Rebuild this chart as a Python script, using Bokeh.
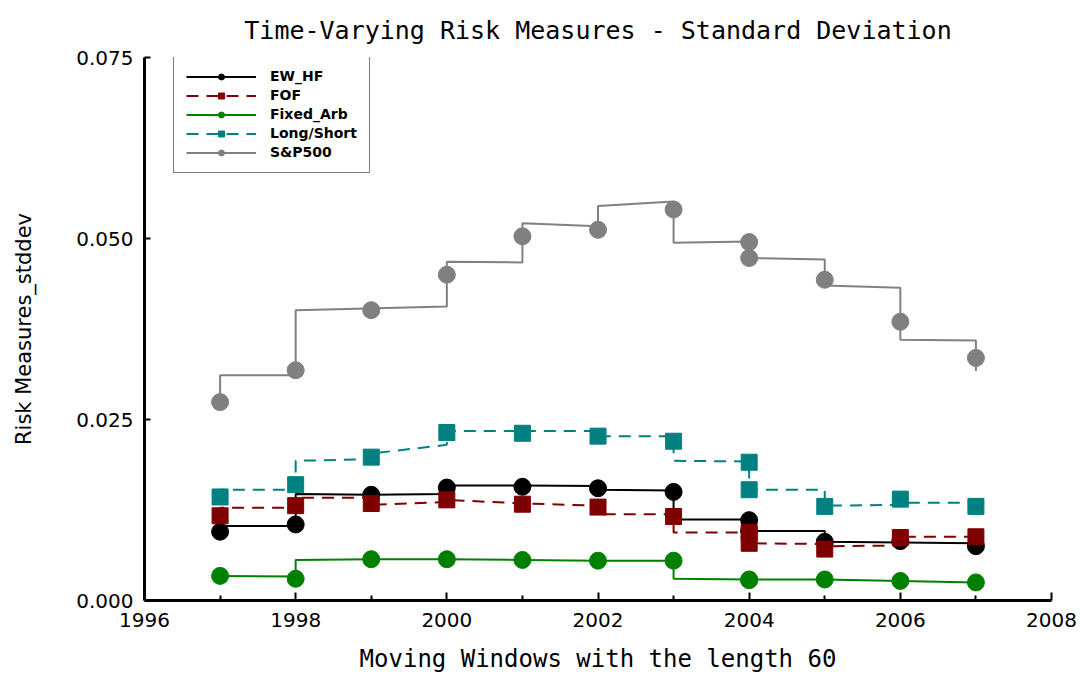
from bokeh.plotting import figure
from bokeh.models import (Range1d, FixedTicker, NumeralTickFormatter, Legend,
                          LegendItem, ColumnDataSource)
from bokeh.embed import file_html
from bokeh.resources import INLINE

# Year-end observations of the 60-month rolling standard deviation
years = [1997, 1998, 1999, 2000, 2001, 2002, 2003, 2004, 2004, 2005, 2006, 2007]
ew_hf_pts = [0.0095, 0.0105, 0.0146, 0.0156, 0.0157, 0.0155, 0.0150, 0.0111, 0.0096, 0.0081, 0.0082, 0.0075]
fof_pts = [0.0117, 0.0131, 0.0134, 0.0139, 0.0133, 0.0129, 0.0116, 0.0094, 0.0079, 0.0071, 0.0087, 0.0088]
fixed_arb_pts = [0.0034, 0.0030, 0.0057, 0.0057, 0.0056, 0.0055, 0.0055, 0.0029, 0.0028, 0.0029, 0.0027, 0.0025]
long_short_pts = [0.0143, 0.0160, 0.0198, 0.0232, 0.0231, 0.0227, 0.0220, 0.0191, 0.0153, 0.0130, 0.0140, 0.0130]
sp500_pts = [0.0274, 0.0318, 0.0401, 0.0450, 0.0503, 0.0512, 0.0540, 0.0495, 0.0473, 0.0443, 0.0385, 0.0335]

# Rolling-window paths (window end date, value)
ew_hf_path_x = [1997, 1997, 1998, 1998, 1999, 2000, 2000, 2001, 2002, 2002, 2003, 2003, 2004, 2004, 2005, 2005, 2006, 2007, 2007]
ew_hf_path_y = [0.0095, 0.0103, 0.0103, 0.0147, 0.0146, 0.0147, 0.0159, 0.0159, 0.0158, 0.0153, 0.0152, 0.0112, 0.0112, 0.0096, 0.0096, 0.0081, 0.0080, 0.0079, 0.0075]

fof_path_x = [1997, 1997, 1998, 1998, 1999, 1999, 2000, 2000, 2001, 2002, 2002, 2003, 2003, 2004, 2004, 2005, 2005, 2006, 2006, 2007]
fof_path_y = [0.0117, 0.0128, 0.0128, 0.0142, 0.0142, 0.0132, 0.0136, 0.0139, 0.0134, 0.0131, 0.0119, 0.0119, 0.0094, 0.0094, 0.0079, 0.0078, 0.0075, 0.0076, 0.0088, 0.0088]

fixed_arb_path_x = [1997, 1998, 1998, 1999, 2000, 2001, 2002, 2003, 2003, 2004, 2005, 2006, 2007]
fixed_arb_path_y = [0.0034, 0.0033, 0.0056, 0.0057, 0.0057, 0.0056, 0.0055, 0.0055, 0.0030, 0.0029, 0.0029, 0.0027, 0.0025]

long_short_path_x = [1997, 1997, 1998, 1998, 1999, 1999, 2000, 2000, 2001, 2002, 2002, 2003, 2003, 2004, 2004, 2005, 2005, 2006, 2006, 2007, 2007]
long_short_path_y = [0.0143, 0.0153, 0.0153, 0.0193, 0.0195, 0.0203, 0.0215, 0.0234, 0.0234, 0.0234, 0.0227, 0.0227, 0.0193, 0.0192, 0.0153, 0.0153, 0.0131, 0.0132, 0.0135, 0.0135, 0.0130]

sp500_path_x = [1997, 1997, 1998, 1998, 2000, 2000, 2001, 2001, 2002, 2002, 2003, 2003, 2004, 2004, 2005, 2005, 2006, 2006, 2007, 2007]
sp500_path_y = [0.0274, 0.0311, 0.0311, 0.0401, 0.0406, 0.0468, 0.0467, 0.0521, 0.0517, 0.0545, 0.0551, 0.0494, 0.0496, 0.0473, 0.0471, 0.0435, 0.0432, 0.0360, 0.0359, 0.0317]

x_major = [1996, 1998, 2000, 2002, 2004, 2006, 2008]
x_minor = [1997, 1999, 2001, 2003, 2005, 2007]
y_major = [0.0, 0.025, 0.050, 0.075]

series = [
    ("EW_HF", ew_hf_path_x, ew_hf_path_y, ew_hf_pts, "#000000", "solid", "circle"),
    ("FOF", fof_path_x, fof_path_y, fof_pts, "#7f0000", "12 8", "square"),
    ("Fixed_Arb", fixed_arb_path_x, fixed_arb_path_y, fixed_arb_pts, "#008000", "solid", "circle"),
    ("Long/Short", long_short_path_x, long_short_path_y, long_short_pts, "#008080", "12 8", "square"),
    ("S&P500", sp500_path_x, sp500_path_y, sp500_pts, "#808080", "solid", "circle"),
]

p = figure(width=1088, height=675, output_backend="svg", toolbar_location=None,
           x_range=Range1d(1996, 2008), y_range=Range1d(0, 0.075),
           min_border_left=144, min_border_right=37, min_border_top=56,
           min_border_bottom=75)

p.title.text = "Time-Varying Risk Measures - Standard Deviation"
p.title.align = "center"
p.title.text_font = "DejaVu Sans Mono"
p.title.text_font_size = "25px"
p.title.text_font_style = "normal"
p.title.text_color = "#000000"
p.title.standoff = 26

p.grid.visible = False
p.outline_line_color = None
p.background_fill_color = "white"
p.border_fill_color = "white"

items = []
for name, px, py, pts, color, dash, marker in series:
    line_r = p.line(px, py, line_color=color, line_width=2, line_dash=dash)
    size = 17 if marker == "circle" else 16
    src = ColumnDataSource(dict(x=years, y=pts))
    pt_r = p.scatter("x", "y", source=src, marker=marker, size=size,
                     fill_color=color, line_color=color)
    items.append(LegendItem(label=name, renderers=[line_r, pt_r]))

# X axis
xa = p.xaxis[0]
xa.ticker = FixedTicker(ticks=x_major, minor_ticks=x_minor)
xa.axis_label = "Moving Windows with the length 60"
xa.axis_label_text_font = "DejaVu Sans Mono"
xa.axis_label_text_font_size = "24px"
xa.axis_label_text_font_style = "normal"
xa.axis_label_text_color = "#000000"
xa.axis_label_standoff = 15
xa.major_label_text_font = "DejaVu Sans"
xa.major_label_text_font_size = "20px"
xa.major_label_text_color = "#000000"
xa.major_label_standoff = 12
xa.axis_line_width = 3
xa.major_tick_in = 8
xa.major_tick_out = 0
xa.minor_tick_in = 5
xa.minor_tick_out = 0
xa.major_tick_line_width = 2
xa.minor_tick_line_width = 2

# Y axis
ya = p.yaxis[0]
ya.ticker = FixedTicker(ticks=y_major, minor_ticks=[])
ya.formatter = NumeralTickFormatter(format="0.000")
ya.axis_label = "Risk Measures_stddev"
ya.axis_label_text_font = "DejaVu Sans"
ya.axis_label_text_font_size = "21px"
ya.axis_label_text_font_style = "normal"
ya.axis_label_text_color = "#000000"
ya.axis_label_standoff = 37
ya.major_label_text_font = "DejaVu Sans"
ya.major_label_text_font_size = "20px"
ya.major_label_text_color = "#000000"
ya.major_label_standoff = 11
ya.axis_line_width = 3
ya.major_tick_in = 6
ya.major_tick_out = 0
ya.major_tick_line_width = 2

legend = Legend(items=items, location=(29, 427),
                border_line_color="black", border_line_width=1.5,
                background_fill_color="white", background_fill_alpha=1.0,
                label_text_font="DejaVu Sans", label_text_font_style="bold",
                label_text_font_size="14px", label_text_color="#000000",
                glyph_width=70, glyph_height=15, label_height=15,
                spacing=3, padding=12, label_standoff=14, margin=0)
p.add_layout(legend)

open("out.html", "w").write(file_html(p, INLINE))
